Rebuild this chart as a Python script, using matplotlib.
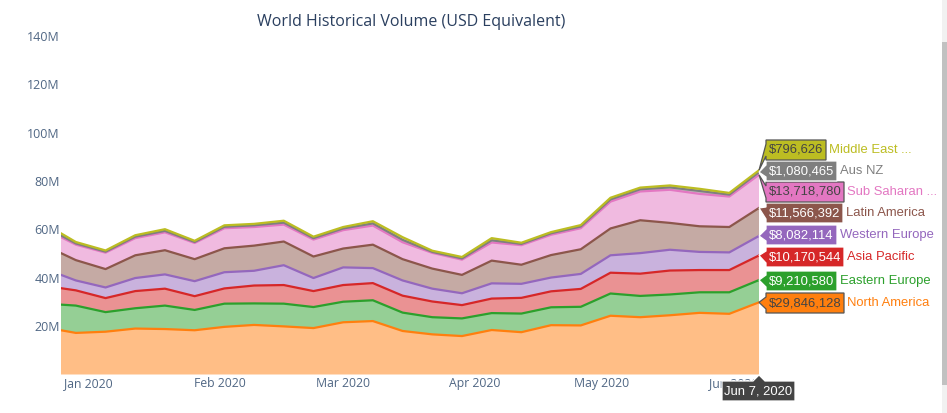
import matplotlib
matplotlib.use("Agg")
import matplotlib.pyplot as plt
import matplotlib.dates as mdates
from matplotlib.patches import Polygon, Rectangle
from matplotlib.transforms import IdentityTransform
import numpy as np
import pandas as pd

W, H = 947, 413

# first point is where the visible range starts, the rest are weekly
fechas = [pd.Timestamp("2019-12-25 12:00")] + list(pd.date_range("2019-12-29", "2020-06-07", freq="7D"))

# volumes in millions, bottom of the stack first
north_america = [18.3, 17.2, 17.7, 19.0, 18.8, 18.3, 19.7, 20.5, 19.9, 19.2, 21.6, 22.1, 18.0, 16.6, 15.9, 18.4, 17.5, 20.4, 20.3, 24.3, 23.7, 24.5, 25.5, 25.1, 29.846]
eastern_europe = [10.6, 11.3, 8.1, 8.4, 9.7, 8.4, 9.6, 8.9, 9.4, 8.7, 8.5, 8.6, 7.6, 7.1, 7.3, 7.0, 7.7, 7.4, 7.7, 9.2, 8.8, 8.6, 8.5, 8.9, 9.211]
asia_pacific = [6.8, 6.3, 5.8, 7.1, 7.0, 5.7, 6.3, 7.4, 7.7, 6.6, 6.9, 7.1, 7.0, 6.5, 5.5, 6.0, 6.5, 6.6, 7.4, 8.6, 9.2, 9.9, 9.2, 9.2, 10.171]
western_europe = [5.5, 4.1, 4.4, 5.4, 5.9, 6.2, 6.7, 6.1, 8.2, 5.4, 7.3, 6.2, 6.3, 5.3, 4.9, 6.3, 5.8, 5.7, 6.2, 7.2, 8.5, 8.6, 7.5, 7.3, 8.082]
latin_america = [9.0, 8.4, 7.6, 9.4, 10.0, 9.1, 9.9, 10.4, 9.8, 8.9, 7.8, 9.7, 8.8, 8.3, 7.6, 9.4, 7.9, 9.3, 10.2, 11.1, 13.6, 11.1, 10.6, 10.5, 11.566]
sub_saharan = [6.6, 6.4, 6.8, 7.1, 7.4, 6.7, 8.3, 7.7, 7.0, 7.0, 7.6, 7.9, 7.0, 6.5, 6.3, 7.5, 8.1, 8.4, 8.7, 11.1, 11.9, 13.7, 13.4, 12.6, 13.719]
aus_nz = [0.7, 0.5, 0.4, 0.6, 0.6, 0.4, 0.6, 0.7, 0.8, 0.6, 0.7, 0.9, 1.0, 0.4, 0.5, 0.9, 0.5, 0.6, 0.7, 0.9, 0.9, 1.0, 1.2, 0.8, 1.080]
middle_east = [0.9, 0.6, 0.5, 0.6, 0.7, 0.5, 0.6, 0.6, 0.8, 0.6, 0.6, 0.9, 1.1, 0.5, 0.6, 0.9, 0.5, 0.5, 0.6, 0.7, 0.7, 0.8, 0.9, 0.7, 0.797]

series = [north_america, eastern_europe, asia_pacific, western_europe,
          latin_america, sub_saharan, aus_nz, middle_east]
colores = ["#ff7f0e", "#2ca02c", "#d62728", "#9467bd", "#8c564b", "#e377c2", "#7f7f7f", "#bcbd22"]
nombres = ["North America", "Eastern Europe", "Asia Pacific", "Western Europe",
           "Latin America", "Sub Saharan ...", "Aus NZ", "Middle East ..."]
etiquetas = ["$29,846,128", "$9,210,580", "$10,170,544", "$8,082,114",
             "$11,566,392", "$13,718,780", "$1,080,465", "$796,626"]
texto_oscuro = [True, False, False, False, False, True, False, True]

y_ticks = [20, 40, 60, 80, 100, 120, 140]
y_labels = ["20M", "40M", "60M", "80M", "100M", "120M", "140M"]
x_ticks = ["2020-01-01", "2020-02-01", "2020-03-01", "2020-04-01", "2020-05-01", "2020-06-01"]

# hover label layout, pixels from the top of the picture
centros_y = [303, 281, 257, 235, 213, 192, 171, 150]
bordes_x = [844, 837, 844, 837, 843, 844, 837, 826]

FUENTE = ["Open Sans", "DejaVu Sans"]
HOVER = ["Liberation Sans", "DejaVu Sans"]
AZUL = "#2a3f5f"
GRIS = "#506784"

fig = plt.figure(figsize=(W / 100, H / 100), dpi=100)
ax = fig.add_axes([61 / W, (H - 374.5) / H, (759 - 61) / W, (374.5 - 36) / H])

valores = np.array(series)
acumulado = np.cumsum(valores, axis=0)
ax.stackplot(fechas, valores, colors=colores, alpha=0.5, linewidth=0)
for fila, color in zip(acumulado, colores):
    ax.plot(fechas, fila, color=color, lw=1.6, solid_joinstyle="round", zorder=3)

ax.set_xlim(fechas[0], fechas[-1])
ax.set_ylim(0, 140)
ax.set_yticks(y_ticks)
ax.set_yticklabels(y_labels, family=FUENTE, fontsize=9, color=GRIS)
ax.set_xticks([mdates.date2num(pd.Timestamp(t)) for t in x_ticks])
ax.set_xticklabels(["Jan 2020", "Feb 2020", "Mar 2020", "Apr 2020", "May 2020", "Jun 2020"],
                   family=FUENTE, fontsize=8.8, color=GRIS)
ax.tick_params(length=0)
ax.tick_params(axis="x", pad=1.5)
ax.tick_params(axis="y", pad=0.8)
for lado in ax.spines.values():
    lado.set_visible(False)

fig.text(411 / W, 1 - 22 / H, "World Historical Volume (USD Equivalent)", family=FUENTE,
         fontsize=11.55, color=AZUL, ha="center", va="center")


def px(x, y):
    return (x, H - y)


def dibujar_forma(puntos, cara, borde):
    fig.add_artist(Polygon([px(*p) for p in puntos], closed=True, facecolor=cara, edgecolor=borde,
                           lw=0.9, transform=IdentityTransform(), zorder=10))


# hover labels on the last week
fig.canvas.draw()
x_ultimo = mdates.date2num(fechas[-1])
for i in range(len(series)):
    ax_x, ax_y = ax.transData.transform((x_ultimo, acumulado[i][-1]))
    ancla = (ax_x, H - ax_y)
    cy = centros_y[i]
    x0, x1 = 766, bordes_x[i]
    borde = "#555555" if texto_oscuro[i] else "#ffffff"
    dibujar_forma([ancla, (x0, cy + 6), (x0, cy + 10), (x1, cy + 10), (x1, cy - 10), (x0, cy - 10), (x0, cy - 6)],
                  colores[i], borde)
    fig.text((x0 + 3) / W, 1 - cy / H, etiquetas[i], family=HOVER, fontsize=9.4,
             color="#444444" if texto_oscuro[i] else "#ffffff", ha="left", va="center", zorder=11)
    fig.text((x1 + 3) / W, 1 - cy / H, nombres[i], family=HOVER, fontsize=9.4,
             color=colores[i], ha="left", va="center", zorder=11)

# date label under the axis
dibujar_forma([(759, 375), (765, 381), (795, 381), (795, 401), (722, 401), (722, 381), (753, 381)],
              "#444444", "#ffffff")
fig.text(758.5 / W, 1 - 391 / H, "Jun 7, 2020", family=HOVER, fontsize=9.4, color="#ffffff",
         ha="center", va="center", zorder=11)

# browser scrollbar on the right
fig.add_artist(Rectangle((942 / W, 0), 5 / W, 1, facecolor="#f1f1f1", edgecolor="none",
                         transform=fig.transFigure))
fig.add_artist(Rectangle((942 / W, (H - 385) / H), 5 / W, (385 - 42) / H, facecolor="#c1c1c1", edgecolor="none",
                         transform=fig.transFigure))

fig.savefig("out.png", dpi=100)
